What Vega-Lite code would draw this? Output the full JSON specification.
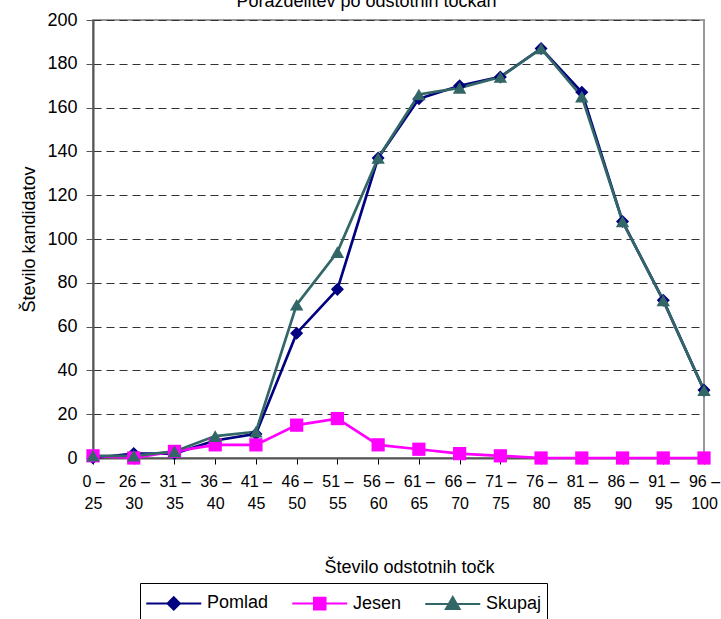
{
  "$schema": "https://vega.github.io/schema/vega-lite/v6.json",
  "width": 611,
  "height": 438,
  "autosize": {"type": "none"},
  "padding": {"left": 93, "top": 20, "right": 17, "bottom": 161},
  "background": "white",
  "title": {
    "text": "Porazdelitev po odstotnih točkah",
    "font": "Liberation Sans",
    "fontSize": 18,
    "fontWeight": "normal",
    "color": "#000000",
    "anchor": "middle",
    "baseline": "alphabetic",
    "offset": 0,
    "dy": 14,
    "dx": -32
  },
  "config": {
    "font": "Liberation Sans",
    "view": {"stroke": "#999999", "strokeWidth": 2}
  },
  "data": {
    "values": [
      {"tocke": "0 – 25", "Pomlad": 0, "Jesen": 1, "Skupaj": 1},
      {"tocke": "26 – 30", "Pomlad": 2, "Jesen": 0, "Skupaj": 1},
      {"tocke": "31 – 35", "Pomlad": 2, "Jesen": 3, "Skupaj": 3},
      {"tocke": "36 – 40", "Pomlad": 8, "Jesen": 6, "Skupaj": 10},
      {"tocke": "41 – 45", "Pomlad": 11, "Jesen": 6, "Skupaj": 12},
      {"tocke": "46 – 50", "Pomlad": 57, "Jesen": 15, "Skupaj": 70},
      {"tocke": "51 – 55", "Pomlad": 77, "Jesen": 18, "Skupaj": 94},
      {"tocke": "56 – 60", "Pomlad": 137, "Jesen": 6, "Skupaj": 137},
      {"tocke": "61 – 65", "Pomlad": 164, "Jesen": 4, "Skupaj": 166},
      {"tocke": "66 – 70", "Pomlad": 170, "Jesen": 2, "Skupaj": 169},
      {"tocke": "71 – 75", "Pomlad": 174, "Jesen": 1, "Skupaj": 174},
      {"tocke": "76 – 80", "Pomlad": 187, "Jesen": 0, "Skupaj": 187},
      {"tocke": "81 – 85", "Pomlad": 167, "Jesen": 0, "Skupaj": 165},
      {"tocke": "86 – 90", "Pomlad": 108, "Jesen": 0, "Skupaj": 108},
      {"tocke": "91 – 95", "Pomlad": 72, "Jesen": 0, "Skupaj": 72},
      {"tocke": "96 – 100", "Pomlad": 31, "Jesen": 0, "Skupaj": 31}
    ]
  },
  "transform": [
    {"fold": ["Pomlad", "Jesen", "Skupaj"], "as": ["serija", "stevilo"]}
  ],
  "encoding": {
    "x": {
      "field": "tocke",
      "type": "nominal",
      "sort": null,
      "scale": {"type": "point", "padding": 0},
      "axis": {
        "title": "Število odstotnih točk",
        "titleFont": "Liberation Sans",
        "titleFontSize": 18,
        "titleFontWeight": "normal",
        "titleColor": "#000000",
        "titleX": 316,
        "titleY": 100,
        "titleBaseline": "top",
        "titleAlign": "center",
        "labelAngle": 0,
        "labelExpr": "[split(datum.label, ' ')[0] + ' –', split(datum.label, ' ')[2]]",
        "labelFontSize": 16,
        "labelColor": "#000000",
        "labelLineHeight": 22,
        "labelPadding": 9,
        "labelBaseline": "top",
        "domainColor": "#555555",
        "domainWidth": 2,
        "tickColor": "#000000",
        "tickSize": 6,
        "grid": false
      }
    },
    "y": {
      "field": "stevilo",
      "type": "quantitative",
      "scale": {"domain": [0, 200], "nice": false},
      "axis": {
        "title": "Število kandidatov",
        "titleFont": "Liberation Sans",
        "titleFontSize": 18,
        "titleFontWeight": "normal",
        "titleColor": "#000000",
        "titleAngle": -90,
        "titleX": -64,
        "titleY": 219,
        "titleAlign": "center",
        "titleBaseline": "middle",
        "values": [0, 20, 40, 60, 80, 100, 120, 140, 160, 180, 200],
        "labelFontSize": 18,
        "labelColor": "#000000",
        "labelPadding": 9,
        "domainColor": "#555555",
        "domainWidth": 2,
        "tickColor": "#555555",
        "tickSize": 7,
        "grid": true,
        "gridColor": "#333333",
        "gridDash": [8, 5],
        "gridWidth": 1
      }
    }
  },
  "resolve": {"scale": {"shape": "independent", "fill": "independent", "stroke": "independent"}},
  "layer": [
    {
      "mark": {"type": "line", "strokeWidth": 2.7},
      "encoding": {
        "color": {
          "field": "serija",
          "type": "nominal",
          "scale": {
            "domain": ["Pomlad", "Jesen", "Skupaj"],
            "range": ["#000080", "#FF00FF", "#336666"]
          },
          "legend": null
        }
      }
    },
    {
      "mark": {"type": "point", "filled": true, "opacity": 1},
      "encoding": {
        "color": {
          "field": "serija",
          "type": "nominal",
          "scale": {
            "domain": ["Pomlad", "Jesen", "Skupaj"],
            "range": ["#000080", "#FF00FF", "#336666"]
          },
          "legend": null
        },
        "shape": {
          "field": "serija",
          "type": "nominal",
          "scale": {
            "domain": ["Pomlad", "Jesen", "Skupaj"],
            "range": ["diamond", "square", "triangle-up"]
          },
          "legend": null
        },
        "size": {
          "field": "serija",
          "type": "nominal",
          "scale": {
            "domain": ["Pomlad", "Jesen", "Skupaj"],
            "range": [170, 180, 230]
          },
          "legend": null
        }
      }
    },
    {
      "mark": {"type": "point", "filled": true, "opacity": 0, "strokeWidth": 2},
      "encoding": {
        "fill": {
          "field": "serija",
          "type": "nominal",
          "scale": {
            "domain": ["Pomlad", "Jesen", "Skupaj"],
            "range": ["#000080", "#FF00FF", "#336666"]
          },
          "legend": {
            "title": null, "orient": "none", "direction": "horizontal",
            "legendX": 47, "legendY": 563,
            "strokeColor": "#000000", "padding": 5,
            "labelFontSize": 18, "labelColor": "#000000",
            "symbolSize": 756, "symbolStrokeWidth": 2, "symbolOpacity": 1,
            "labelOffset": 32, "columnPadding": 19
          }
        },
        "stroke": {
          "field": "serija",
          "type": "nominal",
          "scale": {
            "domain": ["Pomlad", "Jesen", "Skupaj"],
            "range": ["#000080", "#FF00FF", "#336666"]
          },
          "legend": {
            "title": null, "orient": "none", "direction": "horizontal",
            "legendX": 47, "legendY": 563,
            "strokeColor": "#000000", "padding": 5,
            "labelFontSize": 18, "labelColor": "#000000",
            "symbolSize": 756, "symbolStrokeWidth": 2, "symbolOpacity": 1,
            "labelOffset": 32, "columnPadding": 19
          }
        },
        "shape": {
          "field": "serija",
          "type": "nominal",
          "scale": {
            "domain": ["Pomlad", "Jesen", "Skupaj"],
            "range": [
              "M-1,0H3M1,-0.45L1.45,0L1,0.45L0.55,0Z",
              "M-1,0H3M0.58,-0.42H1.42V0.42H0.58Z",
              "M-1,0H3M1,-0.5L1.5,0.38H0.5Z"
            ]
          },
          "legend": {
            "title": null, "orient": "none", "direction": "horizontal",
            "legendX": 47, "legendY": 563,
            "strokeColor": "#000000", "padding": 5,
            "labelFontSize": 18, "labelColor": "#000000",
            "symbolSize": 756, "symbolStrokeWidth": 2, "symbolOpacity": 1,
            "labelOffset": 32, "columnPadding": 19
          }
        }
      }
    }
  ]
}
